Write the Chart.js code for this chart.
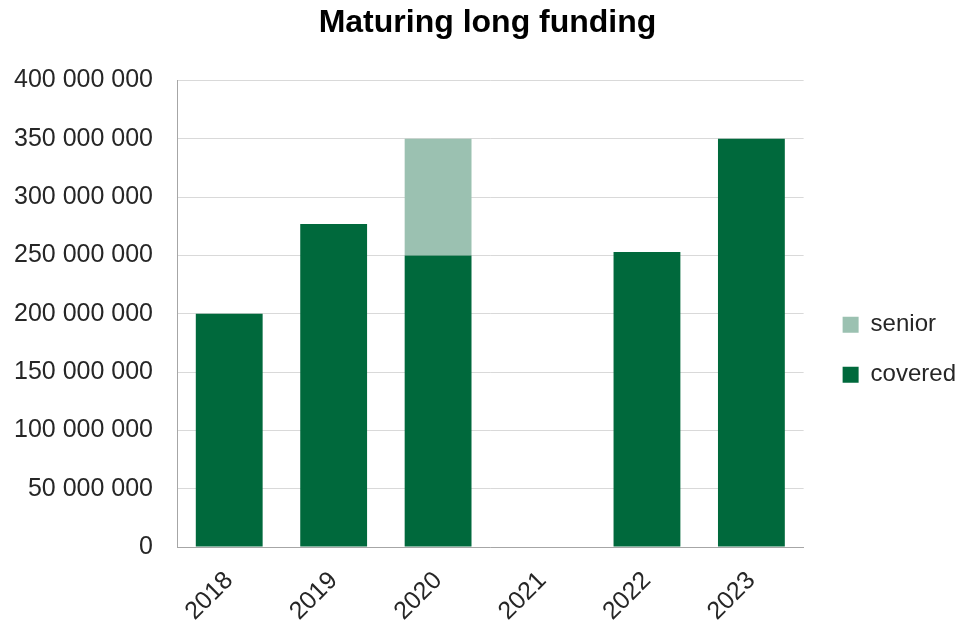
<!DOCTYPE html>
<html>
<head>
<meta charset="utf-8">
<script src="https://cdn.jsdelivr.net/npm/chart.js@4.4.0/dist/chart.umd.min.js"></script>
<style>
  html, body { margin: 0; padding: 0; background: #ffffff; }
  #wrap { width: 961px; height: 623px; position: relative; }
</style>
</head>
<body>
<div id="wrap"><canvas id="c" width="961" height="623"></canvas></div>
<script>
const categories = ['2018', '2019', '2020', '2021', '2022', '2023'];
const coveredValues = [200000000, 277000000, 250000000, 0, 253000000, 350000000];
const seniorValues = [0, 0, 100000000, 0, 0, 0];
const seriesNames = ['covered', 'senior'];
const yTicks = [0, 50000000, 100000000, 150000000, 200000000, 250000000, 300000000, 350000000, 400000000];

function fmt(v) {
  return String(v).replace(/\B(?=(\d{3})+(?!\d))/g, ' ');
}

const FONT = "'Liberation Sans', Arial, sans-serif";

// shift title and legend blocks slightly after layout, to match reference placement
const nudgePlugin = {
  id: 'nudge',
  afterLayout(chart) {
    const lg = chart.legend;
    if (lg) { lg.left += 13; lg.right += 13; lg.top += 11; lg.bottom += 11; }
    const tb = chart.titleBlock;
    if (tb) { tb.left += 11; tb.right += 11; }
  }
};

new Chart(document.getElementById('c'), {
  type: 'bar',
  data: {
    labels: categories,
    datasets: [
      { label: seriesNames[0], data: coveredValues, backgroundColor: '#00693c', borderWidth: 0 },
      { label: seriesNames[1], data: seniorValues, backgroundColor: '#9bc1b1', borderWidth: 0 }
    ]
  },
  plugins: [nudgePlugin],
  options: {
    responsive: false,
    animation: false,
    devicePixelRatio: 1,
    layout: { padding: { left: 0, right: 8, top: 0, bottom: 0 } },
    datasets: { bar: { categoryPercentage: 1.0, barPercentage: 0.64 } },
    plugins: {
      title: {
        display: true,
        text: 'Maturing long funding',
        color: '#000000',
        font: { family: FONT, size: 32, weight: 'bold' },
        padding: { top: 4, bottom: 38 }
      },
      legend: {
        position: 'right',
        reverse: true,
        title: { display: true, text: '', padding: 14, font: { family: FONT, size: 22 } },
        labels: {
          color: '#262626',
          font: { family: FONT, size: 24 },
          boxWidth: 16,
          boxHeight: 16,
          padding: 26
        }
      },
      tooltip: { enabled: false }
    },
    scales: {
      x: {
        stacked: true,
        grid: { display: false, drawTicks: false },
        border: { display: true, color: '#a6a6a6', width: 1 },
        ticks: {
          color: '#262626',
          font: { family: FONT, size: 25 },
          minRotation: 45,
          maxRotation: 45,
          padding: 19
        },
        afterFit: function (scale) { scale.height = 76; }
      },
      y: {
        stacked: true,
        min: 0,
        max: 400000000,
        afterBuildTicks: function (scale) { scale.ticks = yTicks.map(v => ({ value: v })); },
        grid: { color: '#d9d9d9', drawTicks: false },
        border: { display: true, color: '#a6a6a6', width: 1 },
        ticks: {
          color: '#262626',
          font: { family: FONT, size: 25 },
          padding: 24,
          callback: function (v) { return fmt(v); }
        },
        afterFit: function (scale) { scale.width = 177; }
      }
    }
  }
});
</script>
</body>
</html>
